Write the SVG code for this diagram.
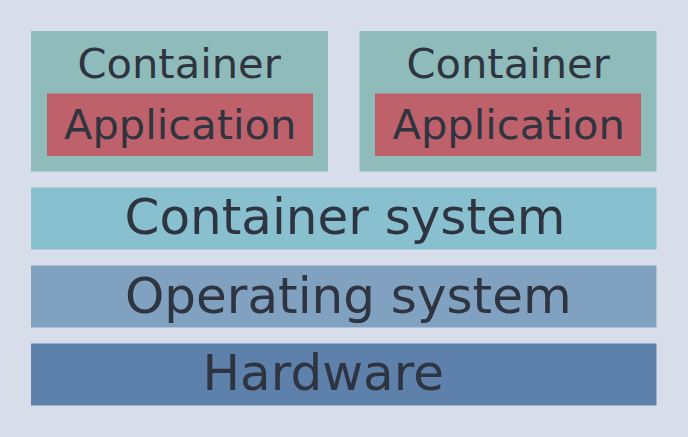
<svg xmlns="http://www.w3.org/2000/svg" width="688" height="437" viewBox="0 0 688 437">
<style>
text{font-family:"DejaVu Sans","Liberation Sans",sans-serif;fill:#2E3440}
.s{font-size:41.6px}
.l{font-size:50px}
.cont{fill:#8FBCBB}
.app{fill:#BF616A}
</style>
<rect width="688" height="437" fill="#D8DEE9"/>
<g id="container1">
<rect class="cont" x="31" y="31" width="297" height="140.5"/>
<text class="s" x="77.5" y="78">Container</text>
</g>
<g id="application1">
<rect class="app" x="47" y="93.5" width="266" height="62.5"/>
<text class="s" x="64" y="139">Application</text>
</g>
<g id="container2">
<rect class="cont" x="359.5" y="31" width="297" height="140.5"/>
<text class="s" x="406.5" y="78">Container</text>
</g>
<g id="application2">
<rect class="app" x="375" y="93.5" width="266" height="62.5"/>
<text class="s" x="392.5" y="139">Application</text>
</g>
<g id="container-system">
<rect x="31" y="187.5" width="625.5" height="62" fill="#88C0D0"/>
<text class="l" x="124.5" y="234">Container system</text>
</g>
<g id="operating-system">
<rect x="31" y="265.5" width="625.5" height="62" fill="#81A1C1"/>
<text class="l" x="125" y="312.5">Operating system</text>
</g>
<g id="hardware">
<rect x="31" y="343.5" width="625.5" height="62" fill="#5E81AC"/>
<text class="l" x="202.5" y="390">Hardware</text>
</g>
<g id="connectors"/>
</svg>
